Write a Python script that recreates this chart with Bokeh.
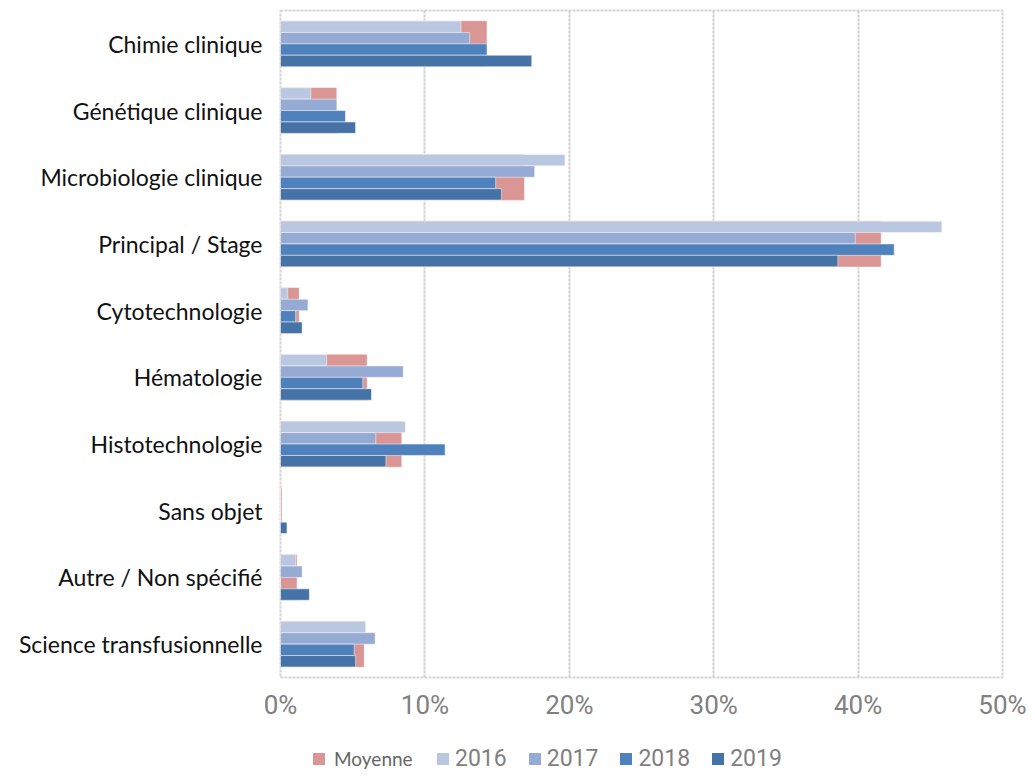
from bokeh.plotting import figure
from bokeh.layouts import column
from bokeh.models import FactorRange, FixedTicker, PrintfTickFormatter, Legend, LegendItem, ColumnDataSource
from bokeh.transform import dodge
from bokeh.embed import file_html
from bokeh.resources import INLINE

categories = ["Chimie clinique", "Génétique clinique", "Microbiologie clinique",
              "Principal / Stage", "Cytotechnologie", "Hématologie", "Histotechnologie",
              "Sans objet", "Autre / Non spécifié", "Science transfusionnelle"]
moyenne = [14.3, 3.9, 16.9, 41.6, 1.3, 6.0, 8.4, 0.1, 1.15, 5.8]
y2016 = [12.5, 2.1, 19.7, 45.8, 0.5, 3.2, 8.65, 0.0, 1.05, 5.9]
y2017 = [13.1, 3.9, 17.6, 39.8, 1.9, 8.5, 6.6, 0.0, 1.5, 6.55]
y2018 = [14.3, 4.5, 14.9, 42.5, 1.05, 5.7, 11.4, 0.0, 0.0, 5.1]
y2019 = [17.4, 5.2, 15.3, 38.6, 1.5, 6.3, 7.3, 0.45, 2.0, 5.2]
series_names = ["Moyenne", "2016", "2017", "2018", "2019"]
x_ticks = [0, 10, 20, 30, 40, 50]

src = ColumnDataSource(dict(cat=categories, moy=moyenne, a=y2016, b=y2017, c=y2018, d=y2019))

p = figure(frame_width=722, frame_height=667, output_backend="svg", toolbar_location=None,
           y_range=FactorRange(*categories[::-1]), x_range=(0, 50),
           min_border_left=280, min_border_right=33, min_border_top=10, min_border_bottom=46)

bh = 0.171
keys = ["moy", "a", "b", "c", "d"]
cols = {"moy": "#D99694", "a": "#B9C7E1", "b": "#95ABD3", "c": "#4F81BD", "d": "#4573A7"}
p.hbar(y="cat", right="moy", left=0, height=4 * bh + 0.01, source=src,
       fill_color=cols["moy"], line_color="white", line_alpha=0.5, line_width=1)
offs = {"a": 1.5 * bh, "b": 0.5 * bh, "c": -0.5 * bh, "d": -1.5 * bh}
for k in ["a", "b", "c", "d"]:
    p.hbar(y=dodge("cat", offs[k], range=p.y_range), right=k, left=0, height=bh,
           source=src, fill_color=cols[k], line_color="white", line_alpha=0.5, line_width=1)

p.xaxis.ticker = FixedTicker(ticks=x_ticks)
p.xaxis.formatter = PrintfTickFormatter(format="%d%%")
p.xaxis.axis_line_color = None
p.xaxis.major_tick_line_color = None
p.xaxis.minor_tick_line_color = None
p.xaxis.major_label_text_font = "Roboto"
p.xaxis.major_label_text_font_size = "26px"
p.xaxis.major_label_text_color = "#808080"
p.xaxis.major_label_standoff = 6

p.yaxis.axis_line_color = None
p.yaxis.major_tick_line_color = None
p.yaxis.minor_tick_line_color = None
p.yaxis.major_label_text_font = "Lato"
p.yaxis.major_label_text_font_size = "23px"
p.yaxis.major_label_text_color = "#111111"
p.yaxis.major_label_standoff = 12

p.ygrid.grid_line_color = None
p.xgrid.grid_line_color = "#D0D0D0"
p.xgrid.grid_line_width = 2
p.xgrid.grid_line_dash = "3 1"

p.outline_line_color = "#D6D6D6"
p.outline_line_width = 2
p.outline_line_dash = "3 1"

# legend strip (its frame is aligned with the main frame by the column layout)
p2 = figure(width=1035, height=49, x_range=(0, 1), y_range=(0, 1), output_backend="svg",
            toolbar_location=None, min_border=0)
p2.xaxis.visible = False
p2.yaxis.visible = False
p2.grid.visible = False
p2.outline_line_color = None
lr = {}
for k in keys:
    # zero-width placeholder bars, used only as legend swatches
    lr[k] = p2.hbar(y=[0.5], left=[0], right=[0], height=0, fill_color=cols[k], line_color=None)

leg1 = Legend(items=[LegendItem(label=series_names[0], renderers=[lr["moy"]])],
              orientation="horizontal", location=(31, 2),
              border_line_color=None, background_fill_alpha=0,
              label_text_font="Lato", label_text_font_size="19px",
              label_text_color="#666666", glyph_width=15, glyph_height=15,
              spacing=0, label_standoff=8, padding=0, margin=0)
leg2 = Legend(items=[LegendItem(label=series_names[i + 1], renderers=[lr[k]])
                     for i, k in enumerate(["a", "b", "c", "d"])],
              orientation="horizontal", location=(155, 0),
              border_line_color=None, background_fill_alpha=0,
              label_text_font="Roboto", label_text_font_size="23px",
              label_text_color="#7F7F7F", glyph_width=15, glyph_height=15,
              spacing=20, label_standoff=5, padding=0, margin=0)
p2.add_layout(leg1, "center")
p2.add_layout(leg2, "center")

layout = column(p, p2, spacing=0)
open("out.html", "w").write(file_html(layout, INLINE))
